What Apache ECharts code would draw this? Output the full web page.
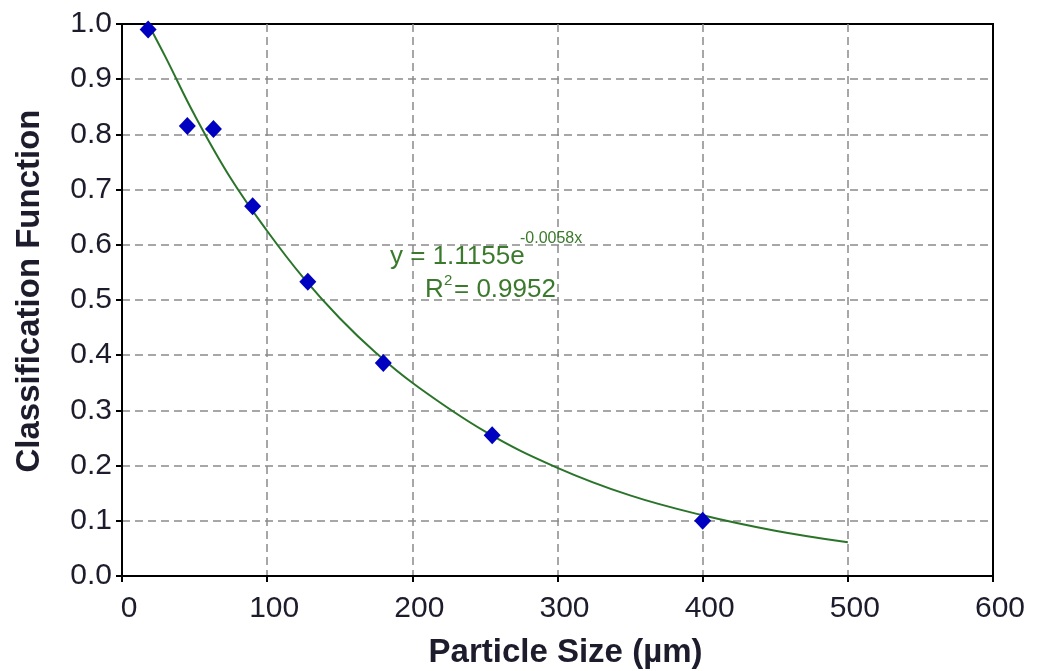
<!DOCTYPE html>
<html>
<head>
<meta charset="utf-8">
<script src="https://cdn.jsdelivr.net/npm/echarts@6/dist/echarts.min.js"></script>
<style>html,body{margin:0;padding:0;background:#fff}#c{width:1038px;height:671px}</style>
</head>
<body>
<div id="c"></div>
<script>
// Measured data points (particle size µm, classification function)
const sizes = [18, 45, 63, 90, 128, 180, 255, 400];
const classValues = [0.99, 0.815, 0.81, 0.67, 0.533, 0.386, 0.255, 0.1];
// Trend curve
const trendX = [18, 30, 50, 75, 100, 125, 150, 175, 200, 250, 300, 350, 400, 450, 500];
const trendY = [1.0, 0.94, 0.835, 0.72, 0.625, 0.54, 0.467, 0.404, 0.35, 0.262, 0.196, 0.146, 0.11, 0.082, 0.061];
const xTicks = [0, 100, 200, 300, 400, 500, 600];
const yTicks = [0, 0.1, 0.2, 0.3, 0.4, 0.5, 0.6, 0.7, 0.8, 0.9, 1.0];

const chart = echarts.init(document.getElementById('c'));
const FONT = '"Liberation Sans", Arial, sans-serif';
const TXT = '#1c1c2c';
const EQ = '#3b7a2c';
const split = {show: true, showMinLine: false, showMaxLine: false, lineStyle: {color: '#8a8a8a', type: [8, 5], width: 1.5}};
chart.setOption({
  animation: false,
  grid: {left: 122, top: 24, right: 45, bottom: 95, show: true, borderColor: '#000', borderWidth: 2,
         backgroundColor: 'transparent', containLabel: false, outerBoundsMode: 'none'},
  xAxis: {
    type: 'value', min: xTicks[0], max: xTicks[xTicks.length - 1], interval: 100,
    name: 'Particle Size (µm)', nameLocation: 'middle', nameGap: 60,
    nameTextStyle: {fontFamily: FONT, fontWeight: 'bold', fontSize: 33, color: TXT, padding: [0, 0, 0, 16]},
    axisLine: {show: true, lineStyle: {color: '#000', width: 2}},
    axisTick: {show: true, inside: false, length: 6, lineStyle: {color: '#000', width: 2}},
    axisLabel: {fontFamily: FONT, fontSize: 30, color: TXT, margin: 18, padding: [0, 0, 0, 14]},
    splitLine: split
  },
  yAxis: {
    type: 'value', min: yTicks[0], max: yTicks[yTicks.length - 1], interval: 0.1,
    name: 'Classification Function', nameLocation: 'middle', nameGap: 76,
    nameTextStyle: {fontFamily: FONT, fontWeight: 'bold', fontSize: 33, color: TXT, padding: [0, 0, 0, 18]},
    axisLine: {show: true, lineStyle: {color: '#000', width: 2}},
    axisTick: {show: true, inside: false, length: 6, lineStyle: {color: '#000', width: 2}},
    axisLabel: {fontFamily: FONT, fontSize: 30, color: TXT, margin: 10, formatter: v => v.toFixed(1)},
    splitLine: split
  },
  series: [
    {
      type: 'line', data: trendX.map((x, i) => [x, trendY[i]]), smooth: 0.4,
      symbol: 'none', lineStyle: {color: '#2a742a', width: 2}, z: 2
    },
    {
      type: 'scatter', data: sizes.map((x, i) => [x, classValues[i]]),
      symbol: 'diamond', symbolSize: [17, 18], itemStyle: {color: '#0000c0', opacity: 1}, z: 3
    }
  ],
  graphic: [
    {type: 'text', left: 390, top: 244, z: 10, style: {text: 'y = 1.1155e', fontFamily: FONT, fontSize: 26, fill: EQ}},
    {type: 'text', left: 520, top: 231, z: 11, style: {text: '-0.0058x', fontFamily: FONT, fontSize: 16, fill: EQ}},
    {type: 'text', left: 425, top: 277, z: 10, style: {text: 'R', fontFamily: FONT, fontSize: 26, fill: EQ}},
    {type: 'text', left: 444, top: 273, z: 10, style: {text: '2', fontFamily: FONT, fontSize: 15, fill: EQ}},
    {type: 'text', left: 454, top: 277, z: 10, style: {text: '= 0.9952', fontFamily: FONT, fontSize: 26, fill: EQ}}
  ]
});
</script>
</body>
</html>
